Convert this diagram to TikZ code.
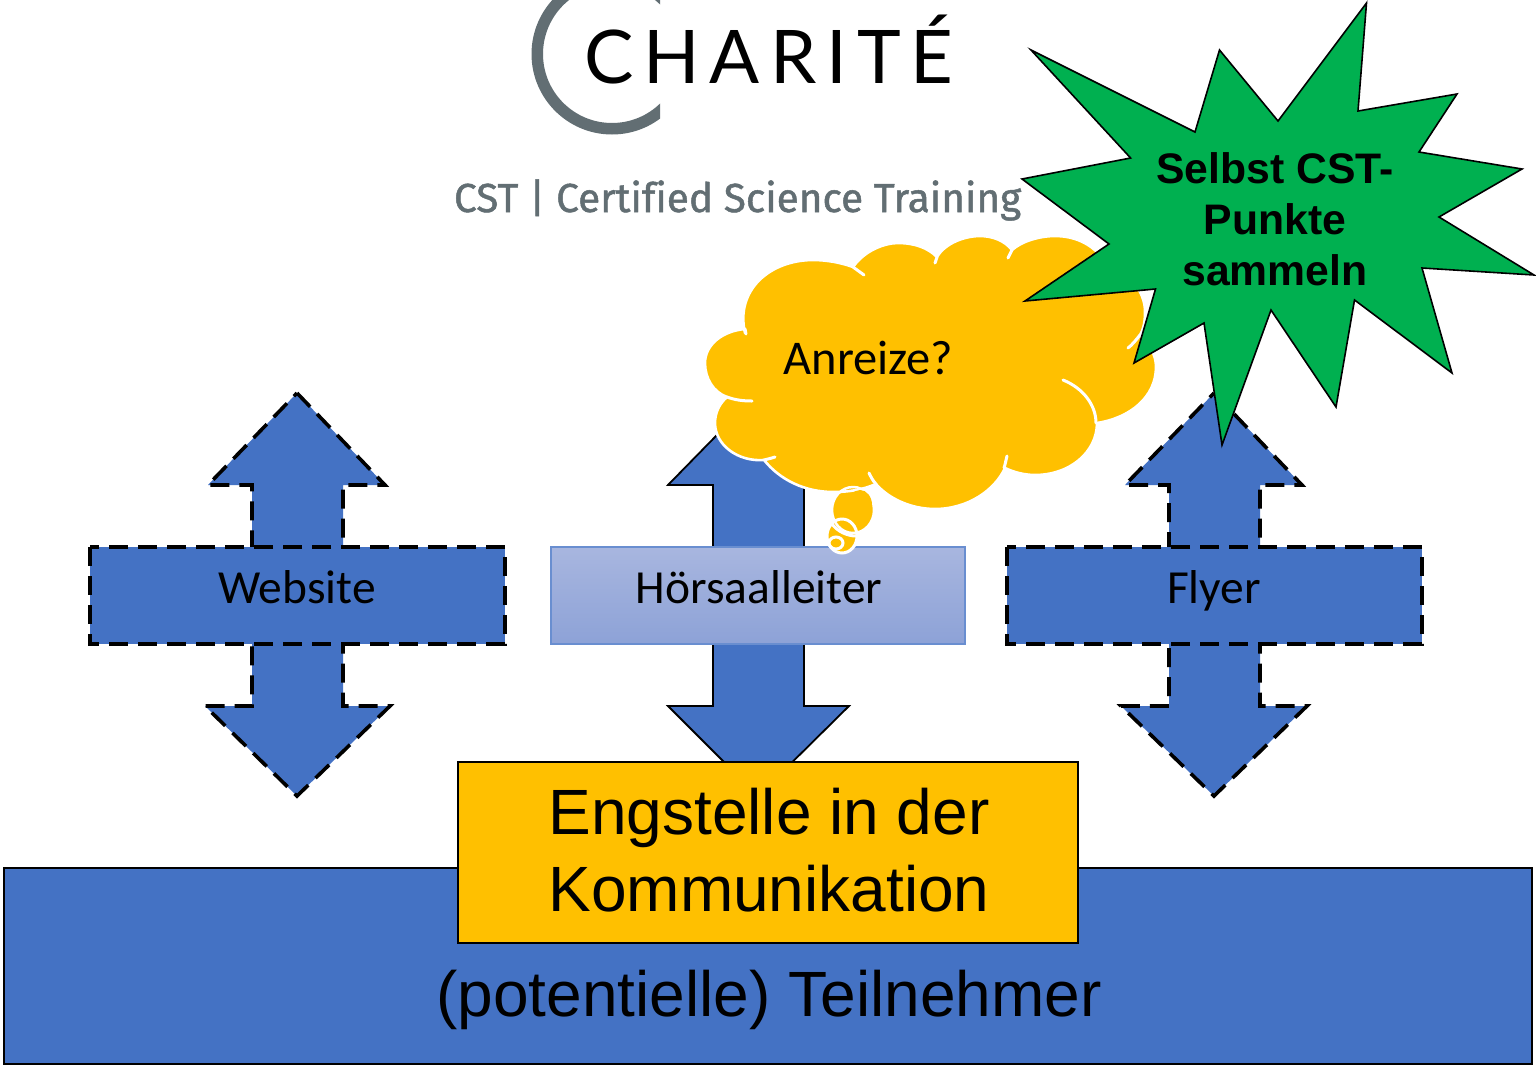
\documentclass[tikz,border=0pt]{standalone}
\usepackage{fontspec}
\setmainfont{Carlito}
\newfontfamily\arialf{Liberation Sans}
\newfontfamily\logof[LetterSpace=13.5]{Lato}
\newfontfamily\cstf[FakeBold=1.2,Ligatures=NoCommon]{Fira Sans}
\definecolor{cblue}{HTML}{4472C4}
\definecolor{cyellow}{HTML}{FFC000}
\definecolor{cgreen}{HTML}{00B050}
\definecolor{clogo}{HTML}{626E73}
\definecolor{hlA}{HTML}{A8B6DF}
\definecolor{hlB}{HTML}{8DA2D7}
\tikzset{
  dashline/.style={draw=black,line width=3.6pt,dash pattern=on 19pt off 10pt,line join=miter},
  solidarrow/.style={draw=black,line width=1.8pt,fill=cblue,line join=miter},
  dasharrow/.style={dashline,fill=cblue},
  dashbar/.style={dashline,fill=cblue},
  tailline/.style={draw=white,line width=3pt,line cap=round},
  txt/.style={inner sep=0pt,outer sep=0pt,text=black},
  carl/.style={txt,anchor=base,font=\fontsize{47.5}{52}\selectfont},
}
\begin{document}
\begin{tikzpicture}[x=1pt,y=-1pt]
\useasboundingbox (0,0) rectangle (1536,1066);
\fill[white] (0,0) rectangle (1536,1066);
% logo
\begin{scope}
\clip (500,0) rectangle (660,140);
\fill[clogo,even odd rule] (612,54) circle[radius=80.5] (612,54) circle[radius=69];
\end{scope}
\node[txt,anchor=base west,font=\logof\fontsize{74}{80}\selectfont] (charite) at (584,83) {CHARITÉ};
\node[txt,anchor=base west,text=clogo,font=\cstf\fontsize{40.5}{45}\selectfont] (cst) at (454,212) {CST | Certified Science Training};
% bottom band
\draw[black,line width=1.8pt,fill=cblue] (4,868) rectangle (1532,1064);
\node[txt,anchor=base,font=\arialf\fontsize{64}{70}\selectfont] (teil) at (769,1016.5) {(potentielle) Teilnehmer};
% left arrow
\path[dasharrow] (297,393) -- (385,485) -- (343,485) -- (343,706) -- (390,706) -- (297,796) -- (205,706) -- (252,706) -- (252,485) -- (208,485) -- cycle;
% middle arrow
\path[solidarrow] (758,393) -- (850,485) -- (804,485) -- (804,706) -- (849,706) -- (758,796) -- (668,706) -- (713,706) -- (713,485) -- (668,485) -- cycle;
% right arrow
\path[dasharrow] (1214,393) -- (1302,485) -- (1260,485) -- (1260,706) -- (1307,706) -- (1214,796) -- (1121,706) -- (1169,706) -- (1169,485) -- (1125,485) -- cycle;
% bars
\path[dashbar] (90,547) rectangle (505,644);
\path[dashbar] (1007,547) rectangle (1422,644);
\draw[draw=cblue!80,line width=1.2pt,top color=hlA,bottom color=hlB] (551,547) rectangle (965,644);
\node[carl] (web) at (297,603) {Website};
\node[carl] (hoer) at (759,603) {Hörsaalleiter};
\node[carl] (fly) at (1214,603) {Flyer};
% engstelle
\draw[black,line width=1.8pt,fill=cyellow] (458,762) rectangle (1078,943);
\node[txt,anchor=center,align=left,font=\arialf\fontsize{64}{77}\selectfont] (eng) at (769,850) {Engstelle in der\\Kommunikation};
% thought bubbles: fill
\fill[cyellow] (853,510) ellipse[x radius=21,y radius=23];
\fill[cyellow] (842,536) ellipse[x radius=15,y radius=17];
% cloud
\path[fill=cyellow,draw=white,line width=2.6pt,line join=round]
  (745,333) .. controls (735,290) and (770,260) .. (813,260)
  .. controls (828,260) and (842,263) .. (853,267)
  .. controls (865,250) and (885,243) .. (898,243)
  .. controls (915,243) and (928,248) .. (937,257)
  .. controls (945,243) and (965,236) .. (980,236)
  .. controls (993,236) and (1005,241) .. (1012,250)
  .. controls (1022,241) and (1040,236) .. (1055,236)
  .. controls (1075,236) and (1090,244) .. (1100,255)
  .. controls (1125,268) and (1146,290) .. (1145,313)
  .. controls (1145,323) and (1143,330) .. (1140,335)
  .. controls (1150,345) and (1156,355) .. (1156,367)
  .. controls (1156,397) and (1130,418) .. (1097,423)
  .. controls (1097,452) and (1070,475) .. (1035,475)
  .. controls (1024,475) and (1013,472) .. (1005,468)
  .. controls (995,490) and (968,509) .. (935,509)
  .. controls (910,509) and (888,498) .. (876,484)
  .. controls (862,490) and (848,492) .. (833,492)
  .. controls (805,492) and (780,480) .. (764,460)
  .. controls (738,462) and (715,445) .. (715,423)
  .. controls (715,412) and (720,403) .. (727,397)
  .. controls (713,392) and (705,378) .. (705,363)
  .. controls (705,345) and (722,331) .. (745,329)
  -- cycle;
\draw[tailline] (853,267) -- (864,275);
\draw[tailline] (937,257) -- (935,263);
\draw[tailline] (1012,250) -- (1008,258);
\draw[tailline] (1140,335) .. controls (1136,340) and (1132,345) .. (1128,348);
\draw[tailline] (1063,380) .. controls (1083,388) and (1096,405) .. (1096,423);
\draw[tailline] (1007,456) .. controls (1006,460) and (1005,465) .. (1004,468);
\draw[tailline] (876,484) .. controls (873,481) and (871,477) .. (869,473);
\draw[tailline] (764,460) .. controls (768,459) and (772,458) .. (775,457);
\draw[tailline] (727,397) .. controls (735,400) and (743,401) .. (752,401);
\draw[tailline] (745,329) -- (746,334);
% thought bubbles: outlines
\draw[white,line width=2.5pt] (853,510) ellipse[x radius=21,y radius=23];
\fill[cyellow] (860,505) ellipse[x radius=12,y radius=15];
\draw[white,line width=3pt] (842,536) ellipse[x radius=15,y radius=17];
\draw[tailline] (832,524) .. controls (838,532) and (848,536) .. (856,536);
\draw[white,line width=3pt] (836,543) ellipse[x radius=7,y radius=6];
\node[txt,anchor=base,font=\fontsize{48.5}{52}\selectfont] (anr) at (868.5,374) {Anreize?};
% star
\path[draw=black,line width=1.6pt,fill=cgreen,line join=miter] (1366.5,3) -- (1358,111) -- (1457,94) -- (1419,152) -- (1522,169) -- (1439,217) -- (1534,275) -- (1422,268) -- (1452,373) -- (1354.5,300) -- (1336,407) -- (1271,310) -- (1222,445) -- (1204,323) -- (1134,363) -- (1155.5,289) -- (1025,301) -- (1109,244) -- (1022,179) -- (1130.6,158) -- (1031,50) -- (1195,132) -- (1219.5,50) -- (1278,121) -- cycle;
\node[txt,anchor=center,align=center,font=\arialf\bfseries\fontsize{42.7}{51}\selectfont] (sel) at (1275,219) {Selbst CST-\\Punkte\\sammeln};
\end{tikzpicture}
\end{document}
